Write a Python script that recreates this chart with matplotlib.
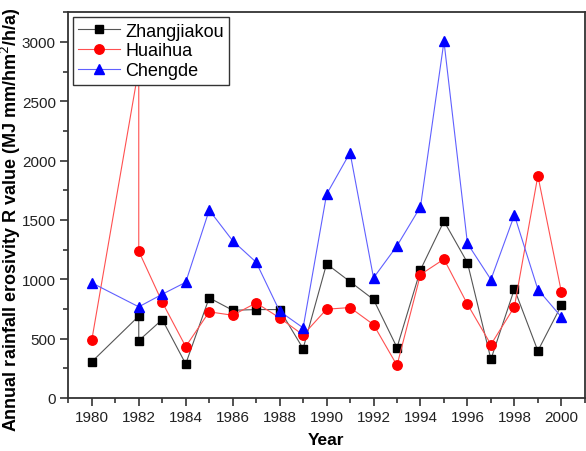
import matplotlib.pyplot as plt
from matplotlib.ticker import MultipleLocator

plt.rcParams["font.family"] = ["Liberation Sans", "DejaVu Sans"]

# Datos (1982 aparece dos veces en dos series)
anios_zh = [1980, 1982, 1982, 1983, 1984, 1985, 1986, 1987, 1988, 1989, 1990,
            1991, 1992, 1993, 1994, 1995, 1996, 1997, 1998, 1999, 2000]
zhangjiakou = [305, 690, 483, 661, 287, 844, 739, 745, 745, 416, 1130,
               980, 830, 425, 1080, 1490, 1140, 326, 918, 397, 781]

anios_hu = [1980, 1982, 1982, 1983, 1984, 1985, 1986, 1987, 1988, 1989, 1990,
            1991, 1992, 1993, 1994, 1995, 1996, 1997, 1998, 1999, 2000]
huaihua = [489, 2780, 1237, 807, 433, 726, 697, 801, 675, 531, 748,
           762, 618, 275, 1040, 1170, 790, 450, 768, 1873, 894]

anios_ch = [1980, 1982, 1983, 1984, 1985, 1986, 1987, 1988, 1989, 1990,
            1991, 1992, 1993, 1994, 1995, 1996, 1997, 1998, 1999, 2000]
chengde = [970, 768, 874, 975, 1583, 1325, 1144, 731, 591, 1716,
           2067, 1012, 1282, 1611, 3005, 1302, 998, 1541, 914, 683]

fig = plt.figure(figsize=(5.86, 4.52), dpi=100)
ax = fig.add_axes([0.1166, 0.1173, 0.8814, 0.8533])

ax.plot(anios_zh, zhangjiakou, color="#555555", linewidth=0.8, marker="s",
        markersize=5.5, markerfacecolor="black", markeredgecolor="black", label="Zhangjiakou")
ax.plot(anios_hu, huaihua, color="#ff5050", linewidth=0.8, marker="o",
        markersize=6.8, markerfacecolor="red", markeredgecolor="red", label="Huaihua")
ax.plot(anios_ch, chengde, color="#6060ff", linewidth=0.8, marker="^",
        markersize=7, markerfacecolor="blue", markeredgecolor="blue", label="Chengde")

ax.set_xlim(1979, 2001)
ax.set_ylim(0, 3250)
ax.xaxis.set_major_locator(MultipleLocator(2))
ax.xaxis.set_minor_locator(MultipleLocator(1))
ax.yaxis.set_major_locator(MultipleLocator(500))
ax.yaxis.set_minor_locator(MultipleLocator(250))
ax.tick_params(which="both", direction="out", width=1.1, colors="#222222",
               labelsize=11, labelcolor="#222222", top=False, right=False)
ax.tick_params(which="major", length=5.5)
ax.tick_params(which="minor", length=3.5)
for s in ax.spines.values():
    s.set_linewidth(1.3)
    s.set_color("#333333")

leg = ax.legend(loc="upper left", bbox_to_anchor=(0.009, 0.987), borderaxespad=0,
                fontsize=13, fancybox=False, edgecolor="#333333", framealpha=1,
                handlelength=2.3, handletextpad=0.3, labelspacing=0.15, borderpad=0.3)
leg.get_frame().set_linewidth(1.0)

fig.text(0.556, 0.008, "Year", fontsize=12.5, fontweight="bold", ha="center", va="bottom")
fig.text(0.018, 0.515, "Annual rainfall erosivity R value (MJ mm/hm$^2$/h/a)",
         fontsize=13, fontweight="bold", rotation=90, ha="center", va="center")

fig.savefig("out.png", dpi=100)
plt.close(fig)
